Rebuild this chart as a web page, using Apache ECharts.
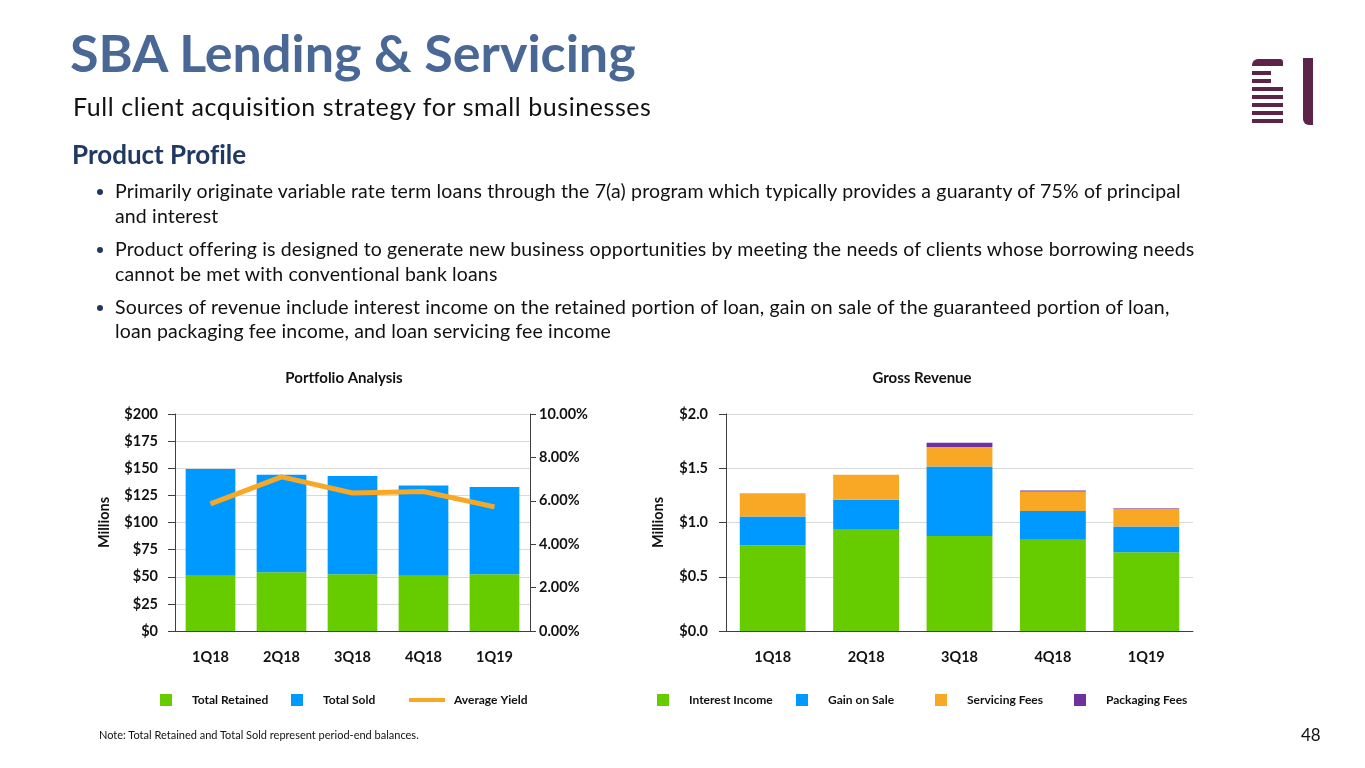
<!DOCTYPE html>
<html><head><meta charset="utf-8">
<script src="https://cdn.jsdelivr.net/npm/echarts@6/dist/echarts.min.js"></script>
<style>
html,body{margin:0;padding:0;background:#fff;}
#page{position:relative;width:1365px;height:768px;overflow:hidden;font-family:Lato,'Open Sans',sans-serif;color:#111;font-variant-ligatures:none;}
#chart{position:absolute;left:0;top:0;width:1365px;height:768px;}
.t{position:absolute;white-space:nowrap;line-height:1;font-variant-ligatures:none;}
.b{font-size:19.5px;letter-spacing:0.15px;}
.dot{position:absolute;width:6px;height:6px;border-radius:50%;background:#1f3864;}
</style></head>
<body><div id="page"><div id="chart"></div>
<div class="t" style="left:70px;top:26px;font-size:52px;font-weight:bold;color:#4a6896;">SBA Lending &amp; Servicing</div>
<div class="t" style="left:73px;top:93.5px;font-size:25px;letter-spacing:0.58px;color:#111;">Full client acquisition strategy for small businesses</div>
<div class="t" style="left:72px;top:141px;font-size:26px;font-weight:bold;color:#1f3864;">Product Profile</div>
<div class="dot" style="left:96.5px;top:189px;"></div>
<div class="t b" style="left:115px;top:181px;">Primarily originate variable rate term loans through the 7(a) program which typically provides a guaranty of 75% of principal</div>
<div class="t b" style="left:115px;top:206px;">and interest</div>
<div class="dot" style="left:96.5px;top:247px;"></div>
<div class="t b" style="left:115px;top:239px;">Product offering is designed to generate new business opportunities by meeting the needs of clients whose borrowing needs</div>
<div class="t b" style="left:115px;top:264px;">cannot be met with conventional bank loans</div>
<div class="dot" style="left:96.5px;top:305px;"></div>
<div class="t b" style="left:115px;top:297px;">Sources of revenue include interest income on the retained portion of loan, gain on sale of the guaranteed portion of loan,</div>
<div class="t b" style="left:115px;top:321px;">loan packaging fee income, and loan servicing fee income</div>
<div class="t" style="left:99px;top:729px;font-size:11px;">Note: Total Retained and Total Sold represent period-end balances.</div>
<div class="t" style="left:1301px;top:726px;font-size:17px;">48</div>
</div>
<script>
const categories = ['1Q18', '2Q18', '3Q18', '4Q18', '1Q19'];
// Portfolio Analysis ($ millions, %)
const totalRetained = [51.0, 54.1, 52.2, 51.0, 52.2];
const totalSold = [98.4, 90.0, 90.6, 83.0, 80.6];
const averageYield = [5.86, 7.10, 6.36, 6.43, 5.72];
// Gross Revenue ($ millions)
const interestIncome = [0.79, 0.94, 0.875, 0.84, 0.725];
const gainOnSale = [0.265, 0.27, 0.64, 0.265, 0.237];
const servicingFees = [0.215, 0.23, 0.18, 0.18, 0.165];
const packagingFees = [0.0, 0.0, 0.04, 0.01, 0.005];

const GREEN = '#66cc00', BLUE = '#0099ff', ORANGE = '#f9a825', PURPLE = '#7030a0';
const AXIS = '#3f3f3f', GRID = '#d9d9d9', TXT = '#111';
const FONT = 'Lato';
const lbl = {color: TXT, fontFamily: FONT, fontWeight: 'bold', fontSize: 14.5};

function xAx(gi) {
  return {type: 'category', gridIndex: gi, data: categories,
    axisLine: {lineStyle: {color: AXIS, width: 1}},
    axisTick: {alignWithLabel: true, length: 5, lineStyle: {color: AXIS}},
    axisLabel: Object.assign({margin: 19}, lbl)};
}
function legendItem(name, left, extra) {
  return Object.assign({data: [name], left: left, top: 694, padding: 0, itemWidth: 12, itemHeight: 12,
    icon: 'rect', selectedMode: false,
    textStyle: {color: TXT, fontFamily: FONT, fontWeight: 'bold', fontSize: 12, padding: [0, 0, 0, 15]}}, extra || {});
}
const LOGO = '#5c2448';
const logo = [
  {type: 'rect', shape: {x: 1252, y: 59, width: 31, height: 7, r: [6, 3, 0, 0]}, style: {fill: LOGO}},
  {type: 'rect', shape: {x: 1252, y: 71, width: 19, height: 4}, style: {fill: LOGO}},
  {type: 'rect', shape: {x: 1252, y: 79, width: 19, height: 4}, style: {fill: LOGO}},
  {type: 'rect', shape: {x: 1252, y: 87, width: 31, height: 4}, style: {fill: LOGO}},
  {type: 'rect', shape: {x: 1252, y: 95, width: 31, height: 4}, style: {fill: LOGO}},
  {type: 'rect', shape: {x: 1252, y: 103, width: 31, height: 4}, style: {fill: LOGO}},
  {type: 'rect', shape: {x: 1252, y: 111, width: 31, height: 4}, style: {fill: LOGO}},
  {type: 'rect', shape: {x: 1252, y: 119, width: 31, height: 4}, style: {fill: LOGO}},
  {type: 'rect', shape: {x: 1303, y: 58, width: 10, height: 67, r: [0, 0, 0, 6]}, style: {fill: LOGO}}
];

const option = {
  animation: false,
  backgroundColor: 'transparent',
  title: [
    {text: 'Portfolio Analysis', left: 344, top: 371, padding: 0, textAlign: 'center',
      textStyle: {color: TXT, fontFamily: FONT, fontWeight: 'bold', fontSize: 15}},
    {text: 'Gross Revenue', left: 922, top: 371, padding: 0, textAlign: 'center',
      textStyle: {color: TXT, fontFamily: FONT, fontWeight: 'bold', fontSize: 15}}
  ],
  legend: [
    legendItem('Total Retained', 160),
    legendItem('Total Sold', 291),
    legendItem('Average Yield', 409, {itemWidth: 36, itemHeight: 4, top: 694, textStyle: {color: TXT, fontFamily: FONT, fontWeight: 'bold', fontSize: 12, padding: [0, 0, 0, 4]}}),
    legendItem('Interest Income', 657),
    legendItem('Gain on Sale', 796),
    legendItem('Servicing Fees', 935),
    legendItem('Packaging Fees', 1074)
  ],
  graphic: logo,
  grid: [
    {left: 175, top: 414, width: 355, height: 217},
    {left: 726, top: 414, width: 467, height: 217}
  ],
  xAxis: [xAx(0), xAx(1)],
  yAxis: [
    {type: 'value', gridIndex: 0, min: 0, max: 200, interval: 25,
      axisLine: {show: true, lineStyle: {color: AXIS}}, axisTick: {show: true, length: 7, lineStyle: {color: AXIS}},
      splitLine: {lineStyle: {color: GRID}},
      axisLabel: Object.assign({margin: 17, formatter: v => '$' + v}, lbl),
      name: 'Millions', nameLocation: 'middle', nameGap: 63, nameTextStyle: lbl},
    {type: 'value', gridIndex: 0, position: 'right', min: 0, max: 10, interval: 2,
      axisLine: {show: true, lineStyle: {color: AXIS}}, axisTick: {show: true, length: 6, lineStyle: {color: AXIS}},
      splitLine: {show: false},
      axisLabel: Object.assign({margin: 9, formatter: v => v.toFixed(2) + '%'}, lbl)},
    {type: 'value', gridIndex: 1, min: 0, max: 2, interval: 0.5,
      axisLine: {show: true, lineStyle: {color: AXIS}}, axisTick: {show: true, length: 7, lineStyle: {color: AXIS}},
      splitLine: {lineStyle: {color: GRID}},
      axisLabel: Object.assign({margin: 18, formatter: v => '$' + v.toFixed(1)}, lbl),
      name: 'Millions', nameLocation: 'middle', nameGap: 60, nameTextStyle: lbl}
  ],
  series: [
    {name: 'Total Retained', type: 'bar', stack: 'p', xAxisIndex: 0, yAxisIndex: 0, barWidth: '70%', data: totalRetained, itemStyle: {color: GREEN}},
    {name: 'Total Sold', type: 'bar', stack: 'p', xAxisIndex: 0, yAxisIndex: 0, data: totalSold, itemStyle: {color: BLUE}},
    {name: 'Average Yield', type: 'line', xAxisIndex: 0, yAxisIndex: 1, data: averageYield, symbol: 'none', z: 5,
      lineStyle: {width: 5, color: ORANGE}, itemStyle: {color: ORANGE}},
    {name: 'Interest Income', type: 'bar', stack: 'r', xAxisIndex: 1, yAxisIndex: 2, barWidth: '70.5%', data: interestIncome, itemStyle: {color: GREEN}},
    {name: 'Gain on Sale', type: 'bar', stack: 'r', xAxisIndex: 1, yAxisIndex: 2, data: gainOnSale, itemStyle: {color: BLUE}},
    {name: 'Servicing Fees', type: 'bar', stack: 'r', xAxisIndex: 1, yAxisIndex: 2, data: servicingFees, itemStyle: {color: ORANGE}},
    {name: 'Packaging Fees', type: 'bar', stack: 'r', xAxisIndex: 1, yAxisIndex: 2, data: packagingFees, itemStyle: {color: PURPLE}}
  ]
};
const chart = echarts.init(document.getElementById('chart'), null, {renderer: 'canvas'});
chart.setOption(option);
</script>
</body></html>
